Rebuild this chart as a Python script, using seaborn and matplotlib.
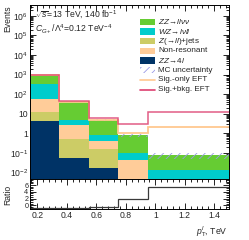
import numpy as np
import pandas as pd
import matplotlib
matplotlib.use("Agg")
import matplotlib.pyplot as plt
import seaborn as sns
from matplotlib.patches import Rectangle
from matplotlib.lines import Line2D
from matplotlib.ticker import FixedLocator, FixedFormatter, LogLocator, MultipleLocator, NullFormatter

# ---------------- data ----------------
bin_edges = [0.15, 0.35, 0.55, 0.75, 0.95, 1.5]
zz_llvv = [610, 39, 3.8, 0.70, 0.062]
wz_lvll = [270, 2.0, 0.39, 0.053, 0.0095]
nonres = [44, 2.1, 0.25, 0.038, 0.002]
zjets = [8.0, 0.44, 0.134, 0.002, 0.0005]
zz_4l = [4.1, 0.052, 0.016, 0.001, 0.0005]
mc_unc_rel = [0.03, 0.06, 0.12, 0.18, 0.35]
sig_only = [900, 40, 4.6, 1.0, 2.1]
sig_bkg = [1000, 44, 5.9, 2.9, 12.4]
ratio = [-0.9, -0.9, -0.4, 1.8, 5.4]

proc_names = ["ZZ→llνν", "WZ→lνll", "Non-resonant", "Z(→ll)+jets", "ZZ→4l"]
proc_vals = [zz_llvv, wz_lvll, nonres, zjets, zz_4l]
proc_colors = ["#66cc33", "#00cccc", "#ffcc99", "#cccc66", "#003366"]

legend_labels = [r"$ZZ\!\rightarrow\! ll\nu\nu$", r"$WZ\!\rightarrow\! l\nu ll$",
                 r"$Z(\!\rightarrow\! ll)$+jets", "Non-resonant", r"$ZZ\!\rightarrow\! 4l$",
                 "MC uncertainty", "Sig.-only EFT", "Sig.+bkg. EFT"]

# ---------------- style ----------------
sns.set_theme(style="ticks")
plt.rcParams["font.family"] = ["Liberation Sans", "DejaVu Sans"]
plt.rcParams["mathtext.fontset"] = "custom"
plt.rcParams["mathtext.rm"] = "Liberation Sans"
plt.rcParams["mathtext.it"] = "Liberation Sans:italic"
plt.rcParams["mathtext.bf"] = "Liberation Sans:bold"
plt.rcParams["hatch.linewidth"] = 0.6
plt.rcParams["hatch.color"] = "#9a9ae6"

FS = 6.2
LFS = 5.9
W, H = 249, 240
fig = plt.figure(figsize=(W / 100, H / 100), dpi=100)

def fx(px):
    return px / W

def fy(py):
    return 1 - py / H

L, R = 30, 229
T_main, B_main = 5, 179.3
B_ratio = 209.4
ax = fig.add_axes([fx(L), fy(B_main), fx(R) - fx(L), fy(T_main) - fy(B_main)])
axr = fig.add_axes([fx(L), fy(B_ratio), fx(R) - fx(L), fy(B_main) - fy(B_ratio)], sharex=ax)

def axx(px):
    return (px - L) / (R - L)

def axy(py):
    return (B_main - py) / (B_main - T_main)

edges = np.array(bin_edges)
centers = 0.5 * (edges[:-1] + edges[1:])

rows = []
for name, vals in zip(proc_names, proc_vals):
    for c, v in zip(centers, vals):
        rows.append({"pt": float(c), "w": float(v), "proc": name})
df = pd.DataFrame(rows)

sns.histplot(data=df, x="pt", weights="w", hue="proc", hue_order=proc_names,
             palette=dict(zip(proc_names, proc_colors)), bins=list(bin_edges),
             multiple="stack", element="bars", fill=True, alpha=1, linewidth=0,
             legend=False, ax=ax)

total = np.sum(np.array(proc_vals), axis=0)
unc = np.array(mc_unc_rel)
ax.stairs(total * (1 + unc), edges, baseline=total * (1 - unc), fill=True,
          facecolor="none", edgecolor="#9a9ae6", hatch="////", linewidth=0)
ax.stairs(sig_only, edges, baseline=None, color="#ffc890", linewidth=1.3)
ax.stairs(sig_bkg, edges, baseline=None, color="#dd4070", linewidth=1.1, alpha=0.85)

ax.set_yscale("log")
ax.set_ylim(10 ** -2.36, 10 ** 6.56)
ax.set_xlim(0.15, 1.5)

yt = [1e-2, 1e-1, 1, 10, 1e2, 1e3, 1e4, 1e5, 1e6]
ytl = [r"$10^{-2}$", r"$10^{-1}$", "1", "10", r"$10^{2}$", r"$10^{3}$", r"$10^{4}$", r"$10^{5}$", r"$10^{6}$"]
ax.yaxis.set_major_locator(FixedLocator(yt))
ax.yaxis.set_major_formatter(FixedFormatter(ytl))
ax.yaxis.set_minor_locator(LogLocator(base=10, subs=np.arange(2, 10), numticks=50))
ax.yaxis.set_minor_formatter(NullFormatter())

for a in (ax, axr):
    a.tick_params(which="both", direction="in", top=True, right=True, labelsize=FS, pad=1.5,
                  color="black", width=0.6)
    a.tick_params(which="major", length=4.5)
    a.tick_params(which="minor", length=2.3)
    for s in a.spines.values():
        s.set_linewidth(0.7)
        s.set_color("black")
    a.set_xlabel("")
    a.set_ylabel("")

ax.xaxis.set_major_locator(MultipleLocator(0.2))
ax.xaxis.set_minor_locator(MultipleLocator(0.04))
ax.tick_params(axis="x", labelbottom=False)

axr.stairs(ratio, edges, baseline=None, color="#3a3a3a", linewidth=0.9)
axr.set_ylim(-1.21, 7.69)
axr.yaxis.set_major_locator(FixedLocator([0, 2, 4, 6]))
axr.yaxis.set_minor_locator(MultipleLocator(0.5))
axr.tick_params(axis="y", labelsize=5.2, pad=1.2)
axr.set_xticks([0.2, 0.4, 0.6, 0.8, 1.0, 1.2, 1.4])
axr.set_xticklabels(["0.2", "0.4", "0.6", "0.8", "1", "1.2", "1.4"])
axr.xaxis.set_minor_locator(MultipleLocator(0.04))
axr.set_xlim(0.15, 1.5)

ax.text(0.025, 0.943, r"$\sqrt{s}$=13 TeV, 140 fb$^{-1}$", transform=ax.transAxes,
        fontsize=FS, ha="left", va="center")
ax.text(0.025, 0.862, r"$C_{G+}/\Lambda^{4}$=0.12 TeV$^{-4}$", transform=ax.transAxes,
        fontsize=FS, ha="left", va="center")

# ---------------- legend (hand-placed rows) ----------------
leg_fill = ["#66cc33", "#00cccc", "#cccc66", "#ffcc99", "#003366"]
row0, dy = 21.7, 9.7
hx0, hx1, tx = 140, 155, 158
for i, lab in enumerate(legend_labels):
    yc = row0 + dy * i
    if i < 5:
        ax.add_patch(Rectangle((axx(hx0), axy(yc + 3.2)), axx(hx1) - axx(hx0),
                               axy(yc - 3.2) - axy(yc + 3.2), transform=ax.transAxes,
                               facecolor=leg_fill[i], edgecolor="none", clip_on=False))
    elif i == 5:
        ax.add_patch(Rectangle((axx(hx0), axy(yc + 3.2)), axx(hx1) - axx(hx0),
                               axy(yc - 3.2) - axy(yc + 3.2), transform=ax.transAxes,
                               facecolor="none", edgecolor="#9a9ae6", hatch="////",
                               linewidth=0, clip_on=False))
    else:
        col = "#ffc890" if i == 6 else "#dd4070"
        ax.add_line(Line2D([axx(hx0), axx(hx1)], [axy(yc), axy(yc)], transform=ax.transAxes,
                           color=col, linewidth=1.2, clip_on=False))
    ax.text(axx(tx), axy(yc), lab, transform=ax.transAxes, fontsize=LFS,
            ha="left", va="center")

fig.text(fx(8), fy(5), "Events", rotation=90, ha="center", va="top", fontsize=FS)
fig.text(fx(8), fy(195), "Ratio", rotation=90, ha="center", va="center", fontsize=FS)
fig.text(fx(228), fy(232), r"$p_{\mathrm{T}}^{l}$, TeV", ha="right", va="center", fontsize=FS)

fig.savefig("out.png", dpi=100)
